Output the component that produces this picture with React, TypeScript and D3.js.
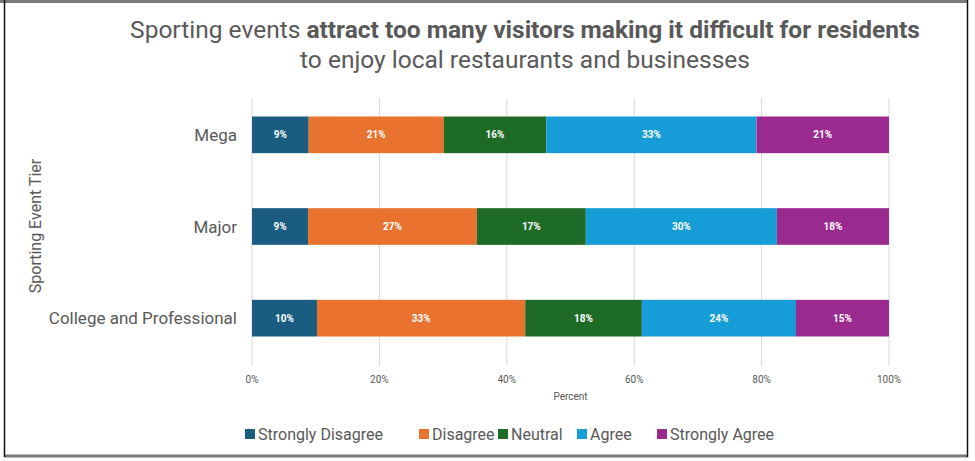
import React, {useEffect, useRef} from 'react';
import * as d3 from "d3"

const categories = ["Mega", "Major", "College and Professional"]
const responses = ["Strongly Disagree", "Disagree", "Neutral", "Agree", "Strongly Agree"]
const colors = ["#1b5c82", "#e9722f", "#1e6b27", "#169cd6", "#9b2a8f"]
// percent shares per category, in the order of responses
const mega = [8.9, 21.2, 16.1, 33.0, 20.8]
const major = [8.8, 26.5, 17.1, 30.0, 17.6]
const college = [10.2, 32.7, 18.3, 24.2, 14.6]
const labels = [
  ["9%", "21%", "16%", "33%", "21%"],
  ["9%", "27%", "17%", "30%", "18%"],
  ["10%", "33%", "18%", "24%", "15%"],
]
const ticks = [0, 20, 40, 60, 80, 100]

const W = 975
const H = 461
const font = "'Liberation Sans Narrow', 'Roboto', sans-serif"

function App() {
  const ref = useRef<SVGSVGElement>(null)

  useEffect(() => {
    const svg = d3.select(ref.current)
    svg.selectAll("*").remove()

    // frame
    svg.append("rect").attr("width", W).attr("height", H).attr("fill", "#fff")
    svg.append("line").attr("x1", 0).attr("x2", 968).attr("y1", 1.5).attr("y2", 1.5)
      .attr("stroke", "#7a7a7a").attr("stroke-width", 3)
    svg.append("line").attr("x1", 4).attr("x2", 968).attr("y1", 456).attr("y2", 456)
      .attr("stroke", "#7a7a7a").attr("stroke-width", 3)
    svg.append("line").attr("x1", 4.5).attr("x2", 4.5).attr("y1", 0).attr("y2", 457)
      .attr("stroke", "#111").attr("stroke-width", 1.5)
    svg.append("line").attr("x1", 967.5).attr("x2", 967.5).attr("y1", 0).attr("y2", 457)
      .attr("stroke", "#111").attr("stroke-width", 1.5)

    // title
    const t1 = svg.append("text").attr("x", 525).attr("y", 38).attr("text-anchor", "middle")
      .attr("font-family", font).attr("font-size", 24.5).attr("fill", "#595959")
    t1.append("tspan").text("Sporting events ")
    t1.append("tspan").attr("font-weight", "bold").text("attract too many visitors making it difficult for residents")
    svg.append("text").attr("x", 525).attr("y", 68).attr("text-anchor", "middle")
      .attr("font-family", font).attr("font-size", 24.5).attr("fill", "#595959")
      .text("to enjoy local restaurants and businesses")

    const x = d3.scaleLinear().domain([0, 100]).range([252, 889])
    const y = d3.scaleBand().domain(categories).range([89, 364]).paddingInner(0.6).paddingOuter(0.3)

    // grid
    svg.append("g").selectAll("line").data(ticks).join("line")
      .attr("x1", d => x(d)).attr("x2", d => x(d))
      .attr("y1", 98).attr("y2", 366)
      .attr("stroke", "#d9d9d9").attr("stroke-width", 1)

    const rows = [mega, major, college]
    rows.forEach((vals, ri) => {
      const cum = d3.cumsum(vals)
      const g = svg.append("g")
      g.selectAll("rect").data(vals).join("rect")
        .attr("x", (d, i) => x(cum[i] - d))
        .attr("width", d => x(d) - x(0))
        .attr("y", y(categories[ri]) as number)
        .attr("height", y.bandwidth())
        .attr("fill", (d, i) => colors[i])
      g.selectAll("text").data(vals).join("text")
        .attr("x", (d, i) => x(cum[i] - d / 2))
        .attr("y", (y(categories[ri]) as number) + y.bandwidth() / 2 + 3.5)
        .attr("text-anchor", "middle")
        .attr("font-family", font).attr("font-size", 10).attr("font-weight", "bold")
        .attr("fill", "#fff")
        .text((d, i) => labels[ri][i])
    })

    // category labels
    svg.append("g").selectAll("text").data(categories).join("text")
      .attr("x", 237)
      .attr("y", d => (y(d) as number) + y.bandwidth() / 2 + 6)
      .attr("text-anchor", "end")
      .attr("font-family", font).attr("font-size", 17).attr("fill", "#595959")
      .text(d => d)

    // axis title y
    svg.append("text").attr("transform", "translate(41,226) rotate(-90)")
      .attr("text-anchor", "middle").attr("font-family", font).attr("font-size", 16)
      .attr("fill", "#595959").text("Sporting Event Tier")

    // tick labels
    svg.append("g").selectAll("text").data(ticks).join("text")
      .attr("x", d => x(d)).attr("y", 383)
      .attr("text-anchor", "middle").attr("font-family", font).attr("font-size", 10)
      .attr("fill", "#595959").text(d => d + "%")
    svg.append("text").attr("x", x(50)).attr("y", 400).attr("text-anchor", "middle")
      .attr("font-family", font).attr("font-size", 10).attr("fill", "#595959").text("Percent")

    // legend
    const legendX = [245, 419, 498, 577, 657]
    const lg = svg.append("g").selectAll("g").data(responses).join("g")
      .attr("transform", (d, i) => `translate(${legendX[i]},434)`)
    lg.append("rect").attr("x", 0).attr("y", -5).attr("width", 10).attr("height", 10)
      .attr("fill", (d, i) => colors[i])
    lg.append("text").attr("x", 13).attr("y", 6)
      .attr("font-family", font).attr("font-size", 16).attr("fill", "#595959")
      .text(d => d)
  }, [])

  return (
    <svg ref={ref} width={W} height={H}
      style={{position: "absolute", left: 0, top: 0, display: "block"}} />
  )
}

export default App;
